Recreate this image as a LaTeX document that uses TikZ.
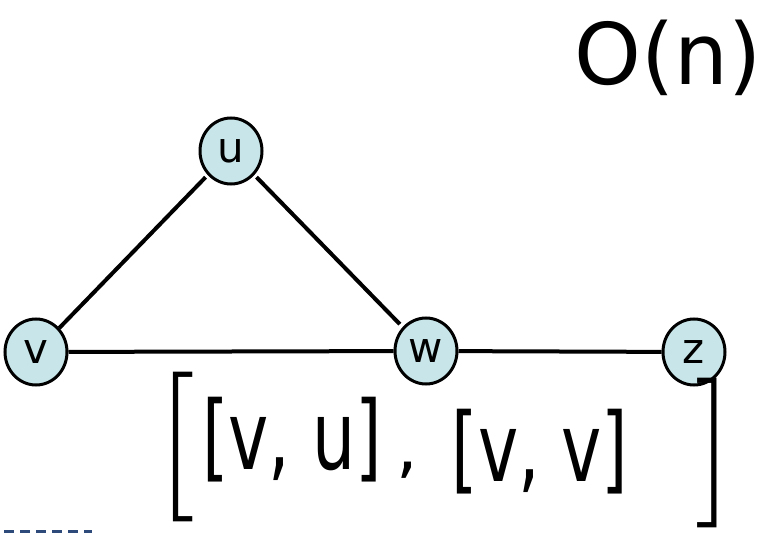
\documentclass[tikz,border=0pt]{standalone}
\usepackage{fontspec}
\setmainfont{DejaVu Sans}
\newfontfamily\bracketfont{Latin Modern Roman}
\usepackage{xcolor}
\usetikzlibrary{shapes.geometric, positioning}
\definecolor{nodeblue}{HTML}{C8E6E9}
\definecolor{dashblue}{HTML}{2E4A7A}
\newcommand{\inksize}[1]{\fontsize{#1}{#1}\selectfont}

\begin{document}
\begin{tikzpicture}[
    x=1pt, y=-1pt,
    vertex/.style={ellipse, draw, line width=3pt, fill=nodeblue, minimum width=62pt, minimum height=66pt, inner sep=0pt, font=\inksize{42}},
    edge/.style={line width=4pt},
    ink/.style={inner sep=0pt, font=\inksize{68}},
    bigbracket/.style={inner sep=0pt, font=\bracketfont\inksize{150}},
]
    \useasboundingbox (0,0) rectangle (761,535);

    % graph
    \node[vertex] (u) at (231,151) {u};
    \node[vertex] (v) at (36,352) {v};
    \node[vertex] (w) at (426,351) {w};
    \node[vertex] (z) at (694,352) {z};

    \draw[edge, shorten <=3pt] (u) -- (v);
    \draw[edge, shorten <=3pt, shorten >=4pt] (u) -- (w);
    \draw[edge] (v) -- (w);
    \draw[edge] (w) -- (z);

    % handwritten notes
    \node[ink, font=\inksize{85}] (order) at (668,58) {O(n)};
    \node[bigbracket] (outerl) at (176,447) {[};
    \node[ink] (listA) at (292,440) {\scalebox{1}[1.4]{[v, u]}};
    \node[ink] (sep) at (407,470) {,};
    \node[ink] (listB) at (540,452) {\scalebox{1}[1.4]{[v, v]}};
    \node[bigbracket] (outerr) at (714,453) {]};

    % dashed rule
    \draw[dashblue, line width=3pt, dash pattern=on 10pt off 6pt] (4,531) -- (92,531);
\end{tikzpicture}
\end{document}
